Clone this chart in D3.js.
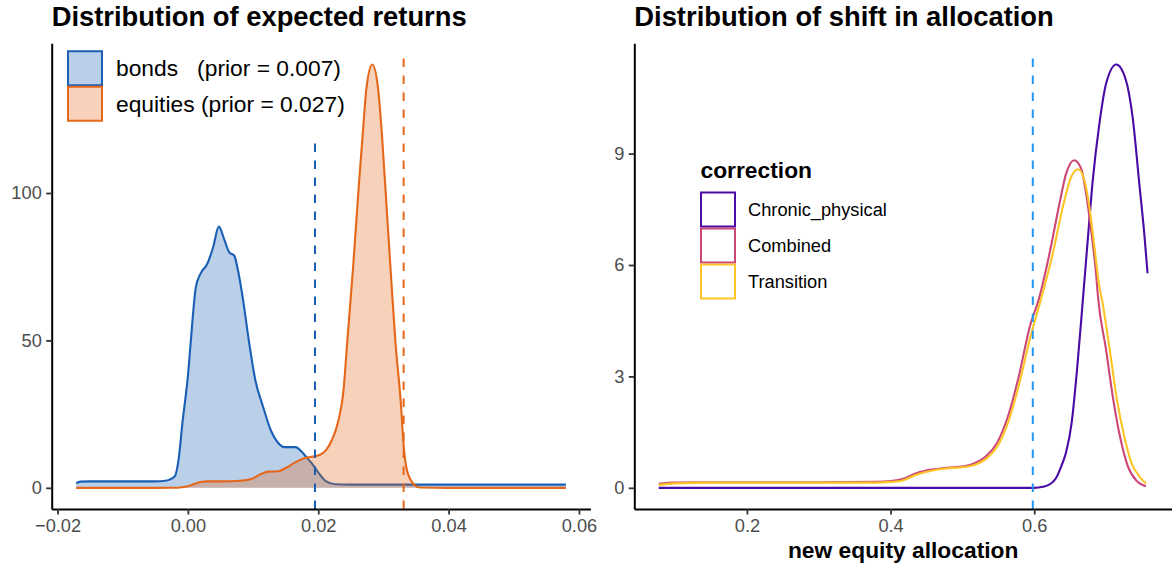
<!DOCTYPE html>
<html><head><meta charset="utf-8">
<script src="https://cdn.jsdelivr.net/npm/d3@7"></script>
<style>
body{margin:0;background:#fff}
text{font-family:"Liberation Sans",Arial,Helvetica,sans-serif}
</style>
</head><body>
<svg id="chart" width="1172" height="567"></svg>
<script>
// ---------- data ----------
const bondsX = [-0.01714,-0.0165,-0.015,-0.010,-0.005,-0.0035,-0.0029,-0.002,-0.00143,-0.00084,0.00004,0.00046,0.00122,0.00192,0.00298,0.00387,0.00475,0.00563,0.00634,0.0071,0.00769,0.0084,0.00934,0.01034,0.01152,0.01269,0.01387,0.01476,0.01653,0.0174,0.01829,0.01917,0.02005,0.02122,0.0227,0.025,0.035,0.045,0.058];
const bondsY = [1.5,2.1,2.2,2.2,2.2,2.4,2.7,4.0,9.6,22.0,38.8,50.2,68.1,72.6,76.0,81.6,88.6,83.9,79.9,78.8,73.7,64.7,50.1,36.6,27.6,19.7,15.2,13.8,13.8,12.4,10.1,7.9,5.1,2.2,1.2,1.1,1.1,1.1,1.1];
const equitiesX = [-0.01714,-0.005,-0.0017,0.0,0.0018,0.003,0.0055,0.0075,0.00976,0.01122,0.0124,0.01387,0.01505,0.01653,0.018,0.01947,0.02035,0.02122,0.02211,0.023,0.02388,0.02447,0.02535,0.02624,0.02682,0.0274,0.0283,0.02917,0.02977,0.03065,0.03124,0.03182,0.03271,0.03311,0.03359,0.03448,0.03565,0.04,0.058];
const equitiesY = [0,0,0.05,0.55,1.9,2.2,2.2,2.3,3.0,4.7,5.5,5.6,6.8,8.7,10.1,10.7,11.3,12.9,16.3,22.0,33.2,50.1,74.9,103.0,119.9,135.7,143.6,135.7,119.9,89.5,69.3,50.1,27.6,14.1,6.2,1.7,0.1,0,0];
const returnSeries = ["bonds", "equities"];
const returnLabels = ["bonds   (prior = 0.007)", "equities (prior = 0.027)"];
const returnVlineX = [0.0195, 0.0331];
const returnVlineTop = [117, 147.6];

const chronicX = [0.0772,0.2,0.4,0.6,0.612,0.622,0.63,0.638,0.6443,0.6521,0.6597,0.6678,0.6745,0.6815,0.6907,0.7,0.7143,0.7278,0.737,0.7463,0.7532,0.7578];
const chronicY = [0,0,0,0,0.03,0.1,0.25,0.6,0.95,1.75,3.2,5.08,6.67,8.28,9.8,10.88,11.40,10.97,9.98,8.19,6.85,5.78];
const combinedX = [0.0772,0.1,0.15,0.2,0.3,0.38,0.4,0.4166,0.4368,0.457,0.4772,0.5026,0.5178,0.5329,0.5482,0.5634,0.5785,0.5938,0.6064,0.6213,0.6351,0.6444,0.6556,0.6653,0.6722,0.6792,0.6861,0.6885,0.7,0.7101,0.7203,0.7304,0.743,0.7557];
const combinedY = [0.107,0.14,0.15,0.15,0.15,0.16,0.18,0.24,0.40,0.49,0.54,0.58,0.67,0.85,1.21,1.92,3.0,4.34,5.08,6.31,7.65,8.46,8.82,8.60,7.92,6.94,5.77,5.2,3.72,2.37,1.30,0.58,0.18,0.04];
const transitionX = [0.0772,0.1,0.15,0.2,0.3,0.38,0.4,0.4166,0.4368,0.457,0.4772,0.5026,0.5178,0.5329,0.5482,0.5634,0.5785,0.5938,0.6097,0.6259,0.6398,0.6514,0.6611,0.6699,0.6768,0.6838,0.6907,0.6942,0.7051,0.7152,0.7253,0.7354,0.748,0.7557];
const transitionY = [0.08,0.12,0.14,0.14,0.14,0.14,0.16,0.2,0.36,0.46,0.52,0.56,0.62,0.78,1.10,1.75,2.75,4.0,5.1,6.31,7.56,8.37,8.58,8.28,7.56,6.49,5.41,5.08,3.72,2.37,1.39,0.67,0.27,0.12];
const corrections = ["Chronic_physical", "Combined", "Transition"];
const allocVlineX = [0.598];
const allocVlineTop = [11.71];

const leftXTicks = [-0.02, 0, 0.02, 0.04, 0.06];
const leftYTicks = [0, 50, 100];
const rightXTicks = [0.2, 0.4, 0.6];
const rightYTicks = [0, 3, 6, 9];

// ---------- styles ----------
const colBonds = "#1a5fb4", colEq = "#e4671a";
const corrColors = ["#4a0aa6", "#cc4778", "#fcc525"];
const colAllocLine = "#2196f3";
const base = 22.8;
const svg = d3.select("#chart");

function expand(ext){ const d = ext[1]-ext[0]; return [ext[0]-0.05*d, ext[1]+0.05*d]; }
const zip = (xs, ys) => xs.map((x,i)=>({x, y: ys[i]}));

const LP = {x0:51.7, x1:590.4, y0:43.3, y1:509};
const RP = {x0:634.3, x1:1172, y0:43.3, y1:509};

function styleAxis(g){
  g.select(".domain").attr("stroke","#000").attr("stroke-width",2);
  g.selectAll(".tick line").attr("stroke","#333").attr("stroke-width",1.8);
  g.selectAll(".tick text").attr("fill","#4d4d4d").attr("font-size",(base*0.8)+"px")
   .attr("font-family",'"Liberation Sans",Arial,sans-serif');
}

// ---------- left panel ----------
{
  const xs = d3.scaleLinear().domain(expand(d3.extent(bondsX.concat(equitiesX)))).range([LP.x0, LP.x1]);
  const ys = d3.scaleLinear().domain(expand([0, d3.max(bondsY.concat(equitiesY))])).range([LP.y1, LP.y0]);
  const series = [zip(bondsX,bondsY), zip(equitiesX,equitiesY)];
  const cols = [colBonds, colEq];
  const area = d3.area().x(d=>xs(d.x)).y0(ys(0)).y1(d=>ys(d.y)).curve(d3.curveMonotoneX);
  const line = d3.line().x(d=>xs(d.x)).y(d=>ys(d.y)).curve(d3.curveMonotoneX);
  const g = svg.append("g");
  series.forEach((s,i)=>{
    g.append("path").attr("d",area(s)).attr("fill",cols[i]).attr("fill-opacity",0.3);
    g.append("path").attr("d",line(s)).attr("fill","none").attr("stroke",cols[i]).attr("stroke-width",2.1);
  });
  returnVlineX.forEach((v,i)=>{
    g.append("line").attr("x1",xs(v)).attr("x2",xs(v)).attr("y1",LP.y1).attr("y2",ys(returnVlineTop[i]))
     .attr("stroke",cols[i]).attr("stroke-width",2).attr("stroke-dasharray","8.5,8.5");
  });
  const ax = svg.append("g").attr("transform",`translate(0,${LP.y1})`)
    .call(d3.axisBottom(xs).tickValues(leftXTicks).tickFormat(d3.format(".2f")).tickSize(5.5).tickSizeOuter(0).tickPadding(4.4));
  styleAxis(ax);
  const ay = svg.append("g").attr("transform",`translate(${LP.x0},0)`)
    .call(d3.axisLeft(ys).tickValues(leftYTicks).tickFormat(d3.format("d")).tickSize(5.5).tickSizeOuter(0).tickPadding(4.4));
  styleAxis(ay);
  // legend
  const lg = svg.append("g");
  returnSeries.forEach((s,i)=>{
    const top = 50.5 + i*35.5;
    lg.append("rect").attr("x",68).attr("y",top+0.75).attr("width",34).attr("height",34)
      .attr("fill",cols[i]).attr("fill-opacity",0.3).attr("stroke",cols[i]).attr("stroke-width",2);
    lg.append("text").attr("x",116).attr("y",top+17.75+8.2).attr("font-size","22.8px").attr("fill","#000")
      .style("white-space","pre").text(returnLabels[i]);
  });
  svg.append("text").attr("x",LP.x0).attr("y",26).attr("font-size",(base*1.2)+"px").attr("font-weight","bold")
    .text("Distribution of expected returns");
}

// ---------- right panel ----------
{
  const series = [zip(chronicX,chronicY), zip(combinedX,combinedY), zip(transitionX,transitionY)];
  const allX = chronicX.concat(combinedX, transitionX), allY = chronicY.concat(combinedY, transitionY);
  const xs = d3.scaleLinear().domain(expand(d3.extent(allX))).range([RP.x0, RP.x1]);
  const ys = d3.scaleLinear().domain(expand([0, d3.max(allY)])).range([RP.y1, RP.y0]);
  const line = d3.line().x(d=>xs(d.x)).y(d=>ys(d.y)).curve(d3.curveMonotoneX);
  const g = svg.append("g");
  series.forEach((s,i)=>{
    g.append("path").attr("d",line(s)).attr("fill","none").attr("stroke",corrColors[i]).attr("stroke-width",2.1);
  });
  allocVlineX.forEach((v,i)=>{
    g.append("line").attr("x1",xs(v)).attr("x2",xs(v)).attr("y1",RP.y1).attr("y2",ys(allocVlineTop[i]))
     .attr("stroke",colAllocLine).attr("stroke-width",2).attr("stroke-dasharray","8.5,8.5");
  });
  const ax = svg.append("g").attr("transform",`translate(0,${RP.y1})`)
    .call(d3.axisBottom(xs).tickValues(rightXTicks).tickFormat(d3.format(".1f")).tickSize(5.5).tickSizeOuter(0).tickPadding(4.4));
  styleAxis(ax);
  const ay = svg.append("g").attr("transform",`translate(${RP.x0},0)`)
    .call(d3.axisLeft(ys).tickValues(rightYTicks).tickFormat(d3.format("d")).tickSize(5.5).tickSizeOuter(0).tickPadding(4.4));
  styleAxis(ay);
  // legend
  const lg = svg.append("g");
  lg.append("text").attr("x",700.5).attr("y",178).attr("font-size",base+"px").attr("font-weight","bold").text("correction");
  corrections.forEach((c,i)=>{
    const top = 191.5 + i*36;
    lg.append("rect").attr("x",701).attr("y",top+1).attr("width",34).attr("height",34)
      .attr("fill","none").attr("stroke",corrColors[i]).attr("stroke-width",2);
    lg.append("text").attr("x",748).attr("y",top+18+6.5).attr("font-size",(base*0.8)+"px").attr("fill","#000").text(c);
  });
  svg.append("text").attr("x",(RP.x0+RP.x1)/2).attr("y",558).attr("text-anchor","middle")
    .attr("font-size",base+"px").attr("font-weight","bold").text("new equity allocation");
  svg.append("text").attr("x",RP.x0).attr("y",26).attr("font-size",(base*1.2)+"px").attr("font-weight","bold")
    .text("Distribution of shift in allocation");
}
</script>
</body></html>
